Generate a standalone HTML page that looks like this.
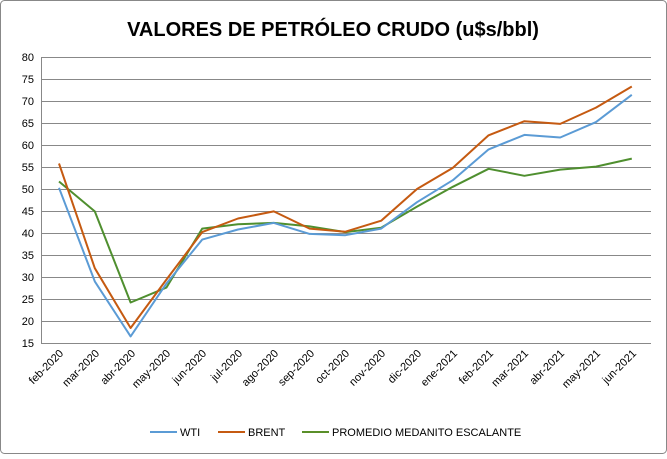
<!DOCTYPE html>
<html><head><style>
body{margin:0;background:#fff;}
svg text{font-family:"Liberation Sans",Arial,sans-serif;}
</style></head><body>
<svg width="667" height="454" viewBox="0 0 667 454" xmlns="http://www.w3.org/2000/svg">
<rect x="0.5" y="0.5" width="666" height="453" rx="4" fill="#fff" stroke="#888"/>
<text x="333" y="36" font-size="20" font-weight="bold" text-anchor="middle" fill="#000">VALORES DE PETRÓLEO CRUDO (u$s/bbl)</text>
<g stroke="#888" stroke-width="1">
<line x1="41" y1="57.5" x2="651" y2="57.5"/><line x1="41" y1="79.5" x2="651" y2="79.5"/>
<line x1="41" y1="101.5" x2="651" y2="101.5"/><line x1="41" y1="123.5" x2="651" y2="123.5"/>
<line x1="41" y1="145.5" x2="651" y2="145.5"/><line x1="41" y1="167.5" x2="651" y2="167.5"/>
<line x1="41" y1="189.5" x2="651" y2="189.5"/><line x1="41" y1="211.5" x2="651" y2="211.5"/>
<line x1="41" y1="233.5" x2="651" y2="233.5"/><line x1="41" y1="255.5" x2="651" y2="255.5"/>
<line x1="41" y1="277.5" x2="651" y2="277.5"/><line x1="41" y1="299.5" x2="651" y2="299.5"/>
<line x1="41" y1="321.5" x2="651" y2="321.5"/><line x1="41" y1="343.5" x2="651" y2="343.5"/>
<line x1="41.5" y1="57" x2="41.5" y2="343"/>
</g>
<g font-size="11" text-anchor="end" fill="#000">
<text x="34" y="61">80</text><text x="34" y="83">75</text><text x="34" y="105">70</text><text x="34" y="127">65</text>
<text x="34" y="149">60</text><text x="34" y="171">55</text><text x="34" y="193">50</text><text x="34" y="215">45</text>
<text x="34" y="237">40</text><text x="34" y="259">35</text><text x="34" y="281">30</text><text x="34" y="303">25</text>
<text x="34" y="325">20</text><text x="34" y="347">15</text>
</g>
<g font-size="11" text-anchor="end" fill="#000">
<text transform="translate(64,354) rotate(-45)">feb-2020</text>
<text transform="translate(100,354) rotate(-45)">mar-2020</text>
<text transform="translate(136,354) rotate(-45)">abr-2020</text>
<text transform="translate(171,354) rotate(-45)">may-2020</text>
<text transform="translate(207,354) rotate(-45)">jun-2020</text>
<text transform="translate(243,354) rotate(-45)">jul-2020</text>
<text transform="translate(279,354) rotate(-45)">ago-2020</text>
<text transform="translate(315,354) rotate(-45)">sep-2020</text>
<text transform="translate(350,354) rotate(-45)">oct-2020</text>
<text transform="translate(386,354) rotate(-45)">nov-2020</text>
<text transform="translate(422,354) rotate(-45)">dic-2020</text>
<text transform="translate(458,354) rotate(-45)">ene-2021</text>
<text transform="translate(494,354) rotate(-45)">feb-2021</text>
<text transform="translate(529,354) rotate(-45)">mar-2021</text>
<text transform="translate(565,354) rotate(-45)">abr-2021</text>
<text transform="translate(601,354) rotate(-45)">may-2021</text>
<text transform="translate(637,354) rotate(-45)">jun-2021</text>
</g>
<g fill="none" stroke-width="2" stroke-linejoin="round">
<polyline stroke="#4f8f2f" stroke="#5a8f29" points="59,181.5 94.8,211.4 130.6,302.5 166.4,287.6 202.2,228.6 238,224.2 273.8,222.9 309.6,226.4 345.4,232.1 381.2,227.7 417,206.6 452.8,186.8 488.6,168.8 524.4,175.8 560.2,169.6 596,166.6 631.8,158.6"/>
<polyline stroke="#c55a11" points="59,163.5 94.8,268.2 130.6,328 166.4,279.6 202.2,232.1 238,218.5 273.8,211.4 309.6,228.6 345.4,231.7 381.2,220.7 417,189 452.8,167.9 488.6,135.3 524.4,121.2 560.2,123.9 596,107.6 631.8,86.5"/>
<polyline stroke="#5b9bd5" points="59,187.8 94.8,281.4 130.6,336.4 166.4,283.6 202.2,239.6 238,229.5 273.8,222.9 309.6,233.9 345.4,235.2 381.2,228.6 417,202.2 452.8,180.2 488.6,149.4 524.4,134.9 560.2,137.5 596,122.1 631.8,94.8"/>
</g>
<g font-size="11" fill="#000">
<line x1="150" y1="432" x2="177" y2="432" stroke="#5b9bd5" stroke-width="2"/><text x="180" y="436">WTI</text>
<line x1="218" y1="432" x2="245" y2="432" stroke="#c55a11" stroke-width="2"/><text x="248" y="436">BRENT</text>
<line x1="302" y1="432" x2="329" y2="432" stroke="#5a8f29" stroke-width="2"/><text x="332" y="436">PROMEDIO MEDANITO  ESCALANTE</text>
</g>
</svg>
</body></html>
